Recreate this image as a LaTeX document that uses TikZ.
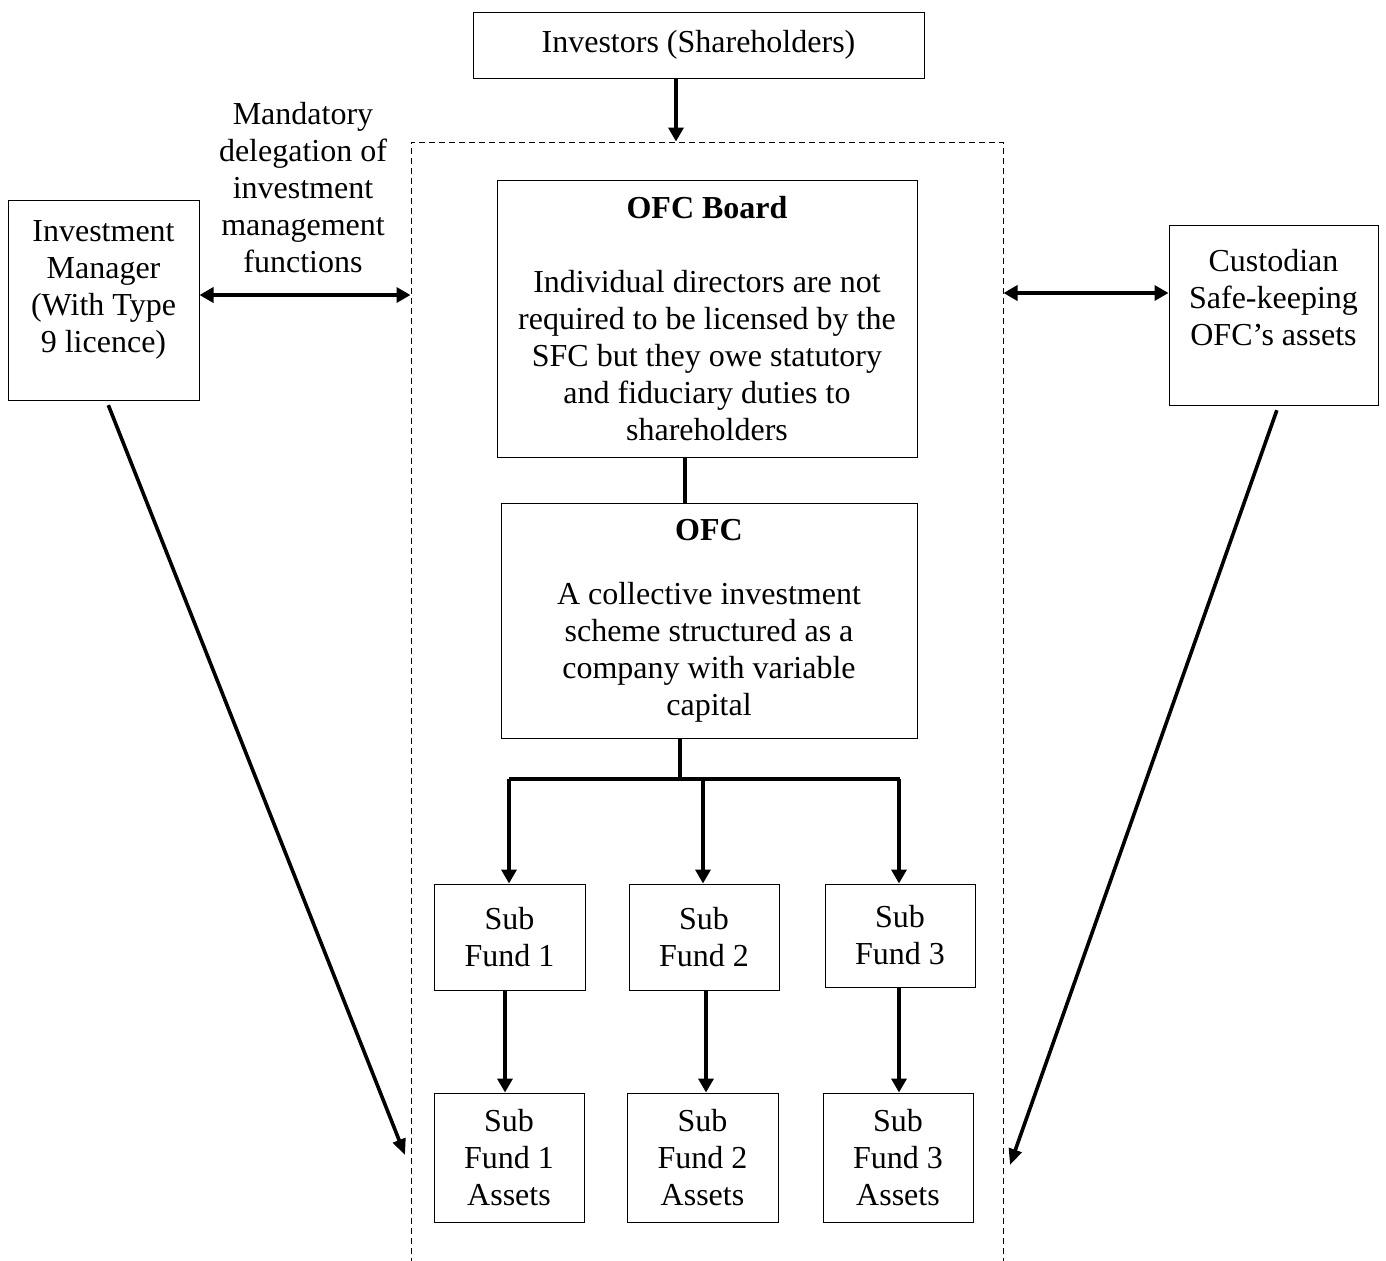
\documentclass[tikz,border=0pt]{standalone}
\usepackage{fontspec}
\setmainfont{Liberation Serif}
\usepackage{tikz}
\usetikzlibrary{arrows.meta}

\begin{document}
\begin{tikzpicture}[x=0.5pt, y=-0.5pt,
  every node/.style={font=\fontsize{16}{18.5}\selectfont, align=center},
  box/.style={draw, line width=0.5pt, inner sep=0pt},
  wrapbox/.style={draw, line width=0.5pt, dash pattern=on 3pt off 2pt, inner sep=0pt},
  arr/.style={line width=2pt, -{Triangle[length=7pt, width=7.5pt]}},
  dbl/.style={line width=2pt, {Triangle[length=7pt, width=7.5pt]}-{Triangle[length=7pt, width=7.5pt]}},
  longarr/.style={line width=1.8pt, shorten <=2.5pt, -{Triangle[length=8pt, width=6.5pt]}}]

\clip (0,0) rectangle (1386,1260);

% main boxes
\node[box, minimum width=225.5pt, minimum height=33pt] (inv) at (698.5,45) {Investors (Shareholders)};
\node[wrapbox, minimum width=296pt, minimum height=570pt] (wrap) at (707,712) {};
\node[box, minimum width=210pt, minimum height=138.5pt] (board) at (707,318.5)
  {\textbf{OFC Board}\\[18.5pt]Individual directors are not\\required to be licensed by the\\SFC but they owe statutory\\and fiduciary duties to\\shareholders};
\node[box, minimum width=208pt, minimum height=117.5pt] (ofc) at (709,620.5)
  {\textbf{OFC}\\[13.5pt]A collective investment\\scheme structured as a\\company with variable\\capital};

% side parties
\node (deleg) at (303,188) {Mandatory\\delegation of\\investment\\management\\functions};
\node[box, minimum width=95.5pt, minimum height=100pt] (im) at (103.5,300) {};
\node at (103.5,290) {Investment\\Manager\\(With Type\\9 licence)};
\node[box, minimum width=104.5pt, minimum height=90pt] (cust) at (1273.5,315) {};
\node at (1273.5,297.5) {Custodian\\Safe-keeping\\OFC's assets};

% sub funds and assets
\node[box, minimum width=75.5pt, minimum height=53pt] (sub1) at (509.5,937) {Sub\\Fund 1};
\node[box, minimum width=75pt, minimum height=53pt] (sub2) at (704,937) {Sub\\Fund 2};
\node[box, minimum width=75pt, minimum height=51.5pt] (sub3) at (900,935.5) {Sub\\Fund 3};
\node[box, minimum width=75pt, minimum height=64.5pt] (ast1) at (509,1157.5) {Sub\\Fund 1\\Assets};
\node[box, minimum width=75.5pt, minimum height=64.5pt] (ast2) at (702.5,1157.5) {Sub\\Fund 2\\Assets};
\node[box, minimum width=75pt, minimum height=64.5pt] (ast3) at (898,1157.5) {Sub\\Fund 3\\Assets};

\coordinate (split) at (680,779);
\coordinate (imend) at (405,1155);
\coordinate (custend) at (1010,1165);

% connectors
\draw[arr] (inv.south -| 676,0) -- (wrap.north -| 676,0);
\draw[line width=2pt] (board.south -| 685,0) -- (ofc.north -| 685,0);
\draw[line width=2pt] (ofc.south -| split) -- (split);
\draw[line width=2pt] (509,779) -- (900,779);
\draw[arr] (509,779) -- (sub1.north -| 509,0);
\draw[arr] (703,779) -- (sub2.north -| 703,0);
\draw[arr] (899,779) -- (sub3.north -| 899,0);
\draw[arr] (sub1.south -| 505,0) -- (ast1.north -| 505,0);
\draw[arr] (sub2.south -| 706,0) -- (ast2.north -| 706,0);
\draw[arr] (sub3.south -| 899,0) -- (ast3.north -| 899,0);

\draw[dbl] ([yshift=2.5pt]im.east) -- ([yshift=2.5pt]im.east -| wrap.west);
\draw[dbl] ([yshift=11pt]cust.west -| wrap.east) -- ([yshift=11pt]cust.west);

\draw[longarr] ([xshift=1.5pt]im.south) -- (imend);
\draw[longarr] ([xshift=2.5pt]cust.south) -- (custend);

\end{tikzpicture}
\end{document}
